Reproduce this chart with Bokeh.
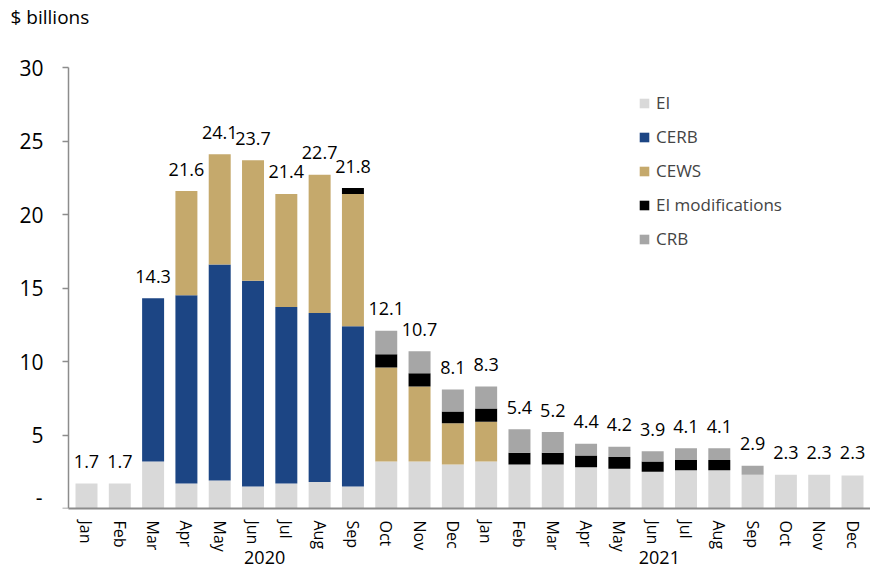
from bokeh.plotting import figure
from bokeh.models import ColumnDataSource, FixedTicker, Legend, LegendItem, Range1d, LinearAxis, Label
from bokeh.core.properties import value
from bokeh.embed import file_html
from bokeh.resources import INLINE

months = ["Jan", "Feb", "Mar", "Apr", "May", "Jun", "Jul", "Aug", "Sep", "Oct", "Nov", "Dec",
          "Jan", "Feb", "Mar", "Apr", "May", "Jun", "Jul", "Aug", "Sep", "Oct", "Nov", "Dec"]
years = ["2020", "2021"]

ei = [1.7, 1.7, 3.2, 1.7, 1.9, 1.5, 1.7, 1.8, 1.5, 3.2, 3.2, 3.0,
      3.2, 3.0, 3.0, 2.8, 2.7, 2.5, 2.6, 2.6, 2.3, 2.3, 2.3, 2.25]
cerb = [0, 0, 11.1, 12.8, 14.7, 14.0, 12.0, 11.5, 10.9, 0, 0, 0,
        0, 0, 0, 0, 0, 0, 0, 0, 0, 0, 0, 0]
cews = [0, 0, 0, 7.1, 7.5, 8.2, 7.7, 9.4, 9.0, 6.4, 5.1, 2.8,
        2.7, 0, 0, 0, 0, 0, 0, 0, 0, 0, 0, 0]
ei_mod = [0, 0, 0, 0, 0, 0, 0, 0, 0.4, 0.9, 0.9, 0.8,
          0.9, 0.8, 0.8, 0.8, 0.8, 0.7, 0.7, 0.7, 0, 0, 0, 0]
crb = [0, 0, 0, 0, 0, 0, 0, 0, 0, 1.6, 1.5, 1.5,
       1.5, 1.6, 1.4, 0.8, 0.7, 0.7, 0.8, 0.8, 0.6, 0, 0, 0]
totals = [1.7, 1.7, 14.3, 21.6, 24.1, 23.7, 21.4, 22.7, 21.8, 12.1, 10.7, 8.1,
          8.3, 5.4, 5.2, 4.4, 4.2, 3.9, 4.1, 4.1, 2.9, 2.3, 2.3, 2.3]

series = ["EI", "CERB", "CEWS", "EI modifications", "CRB"]
colors = ["#D9D9D9", "#1C4584", "#C5A96C", "#000000", "#A6A6A6"]
unit_label = "$ billions"
y_ticks = [0, 5, 10, 15, 20, 25, 30]
zero_label = "-"

FONT = "Open Sans"

x = list(range(len(months)))
src = ColumnDataSource(dict(x=x, ei=ei, cerb=cerb, cews=cews, ei_mod=ei_mod, crb=crb,
                            total=totals, label=[f"{t:.1f}" for t in totals]))

X0 = -0.54  # where the value axis sits
p = figure(width=870, height=571, output_backend="svg", toolbar_location=None,
           x_range=Range1d(-2.582, 23.54), y_range=Range1d(0, 34.56),
           y_axis_location=None,
           min_border_left=0, min_border_right=0, min_border_top=0, min_border_bottom=63)
p.outline_line_color = None
p.grid.grid_line_color = None
p.background_fill_color = "white"

rs = p.vbar_stack(["ei", "cerb", "cews", "ei_mod", "crb"], x="x", width=0.66,
                  color=colors, line_color=None, source=src)

p.text(x="x", y="total", text="label", source=src, text_align="center",
       text_baseline="alphabetic", y_offset=-22, text_font=value(FONT),
       text_font_size="18px", text_color="#000000")

# y axis at fixed location
ya = LinearAxis(fixed_location=X0, bounds=(0, 30),
                ticker=FixedTicker(ticks=y_ticks),
                major_label_overrides={0: ""},
                minor_tick_line_color=None, major_tick_in=0, major_tick_out=6,
                major_tick_line_color="#8C8C8C", major_tick_line_width=1.5,
                axis_line_color="#8C8C8C", axis_line_width=1.5,
                major_label_standoff=19, major_label_text_font=FONT,
                major_label_text_font_size="21px", major_label_text_color="#000000")
p.add_layout(ya, "left")

# "-" label for zero (sits just above the bottom edge of the frame)
p.add_layout(Label(x=-1.321, y=0.75, text=zero_label, text_font=FONT,
                   text_font_size="21px", text_align="right", text_baseline="middle",
                   text_color="#000000"))

# x axis (months)
xa = p.xaxis[0]
xa.ticker = FixedTicker(ticks=x)
xa.major_label_overrides = {i: m for i, m in enumerate(months)}
xa.major_label_orientation = "vertical"
xa.bounds = (X0, 23.54)
xa.minor_tick_line_color = None
xa.major_tick_line_color = None
xa.major_tick_in = 0
xa.major_tick_out = 0
xa.axis_line_color = "#8C8C8C"
xa.axis_line_width = 2
xa.major_label_standoff = 12
xa.major_label_text_font = FONT
xa.major_label_text_font_size = "16px"
xa.major_label_text_color = "#000000"

# second x axis (years)
year_pos = [5.35, 17.2]
xa2 = LinearAxis(ticker=FixedTicker(ticks=year_pos),
                 major_label_overrides={pos: yr for pos, yr in zip(year_pos, years)},
                 axis_line_color=None, major_tick_line_color=None, minor_tick_line_color=None,
                 major_tick_in=0, major_tick_out=0, minor_tick_in=0, minor_tick_out=0,
                 major_label_standoff=-4, major_label_text_font=FONT,
                 major_label_text_font_size="18px", major_label_text_color="#000000")
p.add_layout(xa2, "below")

items = [LegendItem(label=s, renderers=[r]) for s, r in zip(series, rs)]
leg = Legend(items=items, location=(638, 258), orientation="vertical",
             glyph_width=12, glyph_height=12, label_height=20, spacing=11,
             padding=0, margin=0, border_line_color=None, background_fill_alpha=0,
             label_text_font=FONT, label_text_font_size="17px", label_standoff=6)
p.add_layout(leg, "center")

p.add_layout(Label(x=-2.28, y=33.45, text=unit_label, text_font=FONT,
                   text_font_size="19px", text_baseline="middle", text_align="left",
                   text_color="#000000"))

open("out.html", "w").write(file_html(p, INLINE))
